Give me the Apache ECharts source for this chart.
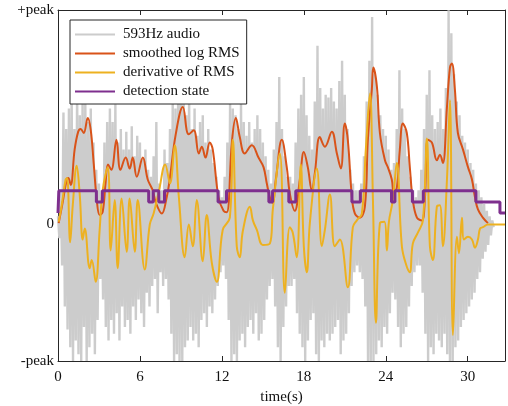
<!DOCTYPE html>
<html>
<head>
<meta charset="UTF-8">
<title>检测状态</title>
<style>
body{margin:0;background:#fff;}
#main{width:508px;height:406px;}
</style>
</head>
<body>
<div id="main"></div>
<script src="https://cdn.jsdelivr.net/npm/echarts@6/dist/echarts.min.js"></script>
<script>
// y values are in percent of peak (-100 = -peak, 157 = top of axis / +peak)
var yTicks = [-100, 0, 157.1];
var yTickLabels = ['-peak', '0', '+peak'];
var xTicks = [0, 6, 12, 18, 24, 30];

// 593Hz audio, one sample every 0.1 s
var audioStep = 0.1;
var audio = [
	6,-10,25,-30,82,-60,70,-77,85,-90,
	95,-100,70,-85,100,-95,80,-100,92,-75,
	90,-100,75,-90,85,-80,60,-95,40,-70,
	30,-40,25,-55,60,-75,75,-85,85,-70,
	75,-80,88,-65,60,-85,70,-60,55,-75,
	68,-70,55,-80,72,-60,50,-70,65,-55,
	60,-65,48,-75,55,-50,40,-60,35,-45,
	50,-40,75,-65,30,-35,25,-45,55,-40,
	45,-55,70,-80,90,-100,85,-95,100,-100,
	110,-100,95,-90,80,-85,95,-75,70,-85,
	85,-80,65,-90,75,-70,80,-65,60,-75,
	70,-60,55,-65,45,-55,35,-45,25,-35,
	20,-30,35,-40,60,-70,89,-100,85,-95,
	80,-100,70,-85,90,-80,75,-90,65,-75,
	75,-70,60,-80,70,-65,80,-85,70,-80,
	60,-70,50,-55,40,-45,30,-40,55,-60,
	75,-90,108,-100,70,-75,50,-60,35,-45,
	35,-45,30,-40,60,-65,85,-80,95,-90,
	108,-100,80,-85,65,-70,55,-65,90,-95,
	131,-100,100,-85,85,-90,95,-80,93,-85,
	100,-80,90,-75,85,-70,105,-95,120,-85,
	95,-80,70,-65,40,-45,30,-35,25,-30,
	25,-35,30,-40,50,-60,90,-100,120,-100,
	152,-100,110,-95,95,-85,80,-90,70,-75,
	65,-80,55,-65,40,-50,45,-55,70,-75,
	113,-90,85,-80,70,-75,50,-60,35,-45,
	25,-35,20,-30,25,-30,40,-50,70,-80,
	95,-100,113,-90,80,-95,70,-80,75,-85,
	85,-90,70,-80,100,-95,157,-100,140,-100,
	110,-90,90,-85,80,-75,65,-70,60,-65,
	55,-60,45,-55,40,-50,30,-40,25,-35,
	20,-25,15,-20,10,-15,6,-8,3,-2
];

// smoothed log RMS
var rmsT = [0.05,0.34,0.64,0.75,0.93,1.22,1.48,1.66,1.88,2.18,2.40,2.62,2.84,3.05,3.27,3.49,3.66,3.90,4.28,4.57,4.96,5.25,5.47,5.77,6.21,6.57,6.94,7.16,7.60,7.96,8.18,8.62,
	9.14,9.57,9.94,10.31,10.53,10.80,11.11,11.33,11.75,12.12,12.36,12.73,13.02,13.31,13.67,14.19,14.68,15.05,15.29,15.51,15.71,15.95,16.39,16.75,16.97,17.34,
	17.71,18.0,18.29,18.59,18.81,19.17,19.54,20.05,20.42,20.71,21.0,21.22,21.52,21.74,22.1,22.47,22.69,22.98,23.09,23.35,23.57,23.94,24.15,24.44,24.59,24.81,
	25.03,25.25,25.54,25.76,25.98,26.28,26.64,26.86,27.08,27.38,27.74,27.96,28.18,28.48,28.7,28.84,29.06,29.28,29.65,30.02,30.31,30.53,30.75,31.11,31.48];
var rmsV = [1,16,33,34,29,55,68,70,67,78,69,44,18,7,9,31,44,40,62,40,49,41,49,35,49,33,25,16,8,20,33,66,
	86,66,69,52,57,49,60,55,20,10,9,60,78,64,52,58,49,42,30,20,16,33,62,42,23,10,
	33,53,42,25,38,64,57,68,52,41,74,62,20,8,5,13,62,99,115,101,67,47,42,33,23,27,
	55,74,67,42,18,5,3,18,62,60,47,51,45,86,115,118,99,67,55,42,33,20,11,5,1];

// derivative of RMS
var derivT = [0.05,0.27,0.56,0.67,0.89,1.08,1.37,1.59,1.81,1.96,2.32,2.47,2.76,3.05,3.27,3.64,3.86,4.15,4.37,4.66,5.03,5.25,5.62,5.84,6.35,6.72,7.0,7.4,7.85,8.2,8.55,8.85,
	9.28,9.58,9.87,10.16,10.6,10.89,11.26,11.63,12.06,12.58,12.8,13.09,13.31,13.53,14.05,14.27,14.56,15.0,15.51,15.73,16.24,16.61,16.97,17.19,17.48,17.78,
	18.0,18.22,18.44,18.95,19.32,19.54,19.91,20.27,20.64,21.22,21.59,21.88,22.25,22.54,22.84,23.06,23.28,23.57,23.9,24.08,24.23,24.52,24.81,25.18,25.54,25.76,
	25.98,26.35,26.72,27.01,27.23,27.45,27.74,27.96,28.18,28.48,28.7,28.92,29.21,29.36,29.58,29.72,30.02,30.31,30.53,30.75,30.9,31.11,31.48,32.73];
var derivV = [2,14,33,34,-13,14,43,22,-11,-3,-32,-26,-42,-4,25,42,-19,18,-32,19,-20,19,-20,18,-33,0,8,25,44,30,58,20,
	-24,0,-16,18,-27,7,-28,-42,-4,5,62,-16,-24,-5,13,3,-4,-15,-14,11,52,-50,-2,-6,-24,44,
	-16,-35,1,41,-16,-4,22,-16,-11,-46,-2,3,8,55,96,18,-72,1,2,-19,2,18,45,-16,-31,-35,
	-14,-6,3,63,-16,-26,13,14,-16,33,91,-81,-9,-21,5,-11,-9,-11,-17,-11,-3,-2,0,0];

// detection state (held until next change)
var stateT = [0,0.06,2.81,3.25,6.64,6.97,7.38,7.80,11.72,12.34,15.44,15.71,16.90,17.41,21.52,22.14,24.42,24.67,25.95,26.75,30.60,32.36,32.73];
var stateV = [8.4,24.7,16.5,24.7,16.5,24.7,16.5,24.7,16.5,24.7,16.5,24.7,16.5,24.7,16.5,24.7,16.5,24.7,16.5,24.7,16.5,8.4,8.4];

var names = ['593Hz audio', 'smoothed log RMS', 'derivative of RMS', 'detection state'];
var colors = ['#cccccc', '#d95319', '#edb120', '#7e2f8e'];

function pairs(ts, vs){
	var out = [];
	for(var i=0;i<ts.length;i++){ out.push([ts[i], vs[i]]); }
	return out;
}
var audioData = audio.map(function(v, i){ return [+(i*audioStep).toFixed(2), v]; });

var axisColor = '#262626';
var font = 'Liberation Serif';
var myChart = echarts.init(document.getElementById('main'));

myChart.setOption({
	animation: false,
	grid: {left: 58, right: 3, top: 10, bottom: 45, outerBoundsMode: 'none'},
	legend: {
		orient: 'vertical', left: 70, top: 20,
		icon: 'rect', itemWidth: 40, itemHeight: 2, itemGap: 4,
		padding: [7, 7, 5, 5],
		borderColor: axisColor, borderWidth: 1, backgroundColor: '#fff',
		textStyle: {fontFamily: font, fontSize: 15, color: '#111', lineHeight: 14, padding: [0, 0, 0, 3]},
		data: names
	},
	xAxis: [{
		type: 'value', min: 0, max: 32.73, interval: 6,
		name: 'time(s)', nameLocation: 'middle', nameGap: 28,
		nameTextStyle: {fontFamily: font, fontSize: 15, color: '#111'},
		axisLine: {onZero: false, lineStyle: {color: axisColor}},
		axisTick: {inside: true, length: 5, customValues: xTicks, lineStyle: {color: axisColor}},
		axisLabel: {fontFamily: font, fontSize: 15, color: '#111', margin: 9, customValues: xTicks},
		splitLine: {show: false}
	}, {
		type: 'value', position: 'top', min: 0, max: 32.73, interval: 6,
		axisLine: {onZero: false, lineStyle: {color: axisColor}},
		axisTick: {inside: true, length: 5, customValues: xTicks, lineStyle: {color: axisColor}},
		axisLabel: {show: false}, splitLine: {show: false}
	}],
	yAxis: [{
		type: 'value', min: -100, max: 157.1,
		axisLine: {show: true, onZero: false, lineStyle: {color: axisColor}},
		axisTick: {show: true, inside: true, length: 5, customValues: yTicks, lineStyle: {color: axisColor}},
		axisLabel: {fontFamily: font, fontSize: 15, color: '#111', margin: 4,
			customValues: yTicks,
			formatter: function(v){
				for(var i=0;i<yTicks.length;i++){ if(Math.abs(v-yTicks[i])<0.5) return yTickLabels[i]; }
				return '';
			}},
		splitLine: {show: false}
	}, {
		type: 'value', position: 'right', min: -100, max: 157.1,
		axisLine: {show: true, onZero: false, lineStyle: {color: axisColor}},
		axisTick: {show: true, inside: true, length: 5, customValues: yTicks, lineStyle: {color: axisColor}},
		axisLabel: {show: false}, splitLine: {show: false}
	}],
	series: [{
		name: names[0], type: 'line', symbol: 'none', sampling: 'none',
		lineStyle: {color: colors[0], width: 2.4}, itemStyle: {color: colors[0]},
		areaStyle: {color: colors[0], opacity: 1, origin: 0},
		data: audioData
	}, {
		name: names[1], type: 'line', symbol: 'none', smooth: 0.4,
		lineStyle: {color: colors[1], width: 2}, itemStyle: {color: colors[1]},
		data: pairs(rmsT, rmsV)
	}, {
		name: names[2], type: 'line', symbol: 'none', smooth: 0.4,
		lineStyle: {color: colors[2], width: 2}, itemStyle: {color: colors[2]},
		data: pairs(derivT, derivV)
	}, {
		name: names[3], type: 'line', symbol: 'none', step: 'end',
		lineStyle: {color: colors[3], width: 3}, itemStyle: {color: colors[3]},
		data: pairs(stateT, stateV)
	}]
});
</script>
</body>
</html>
